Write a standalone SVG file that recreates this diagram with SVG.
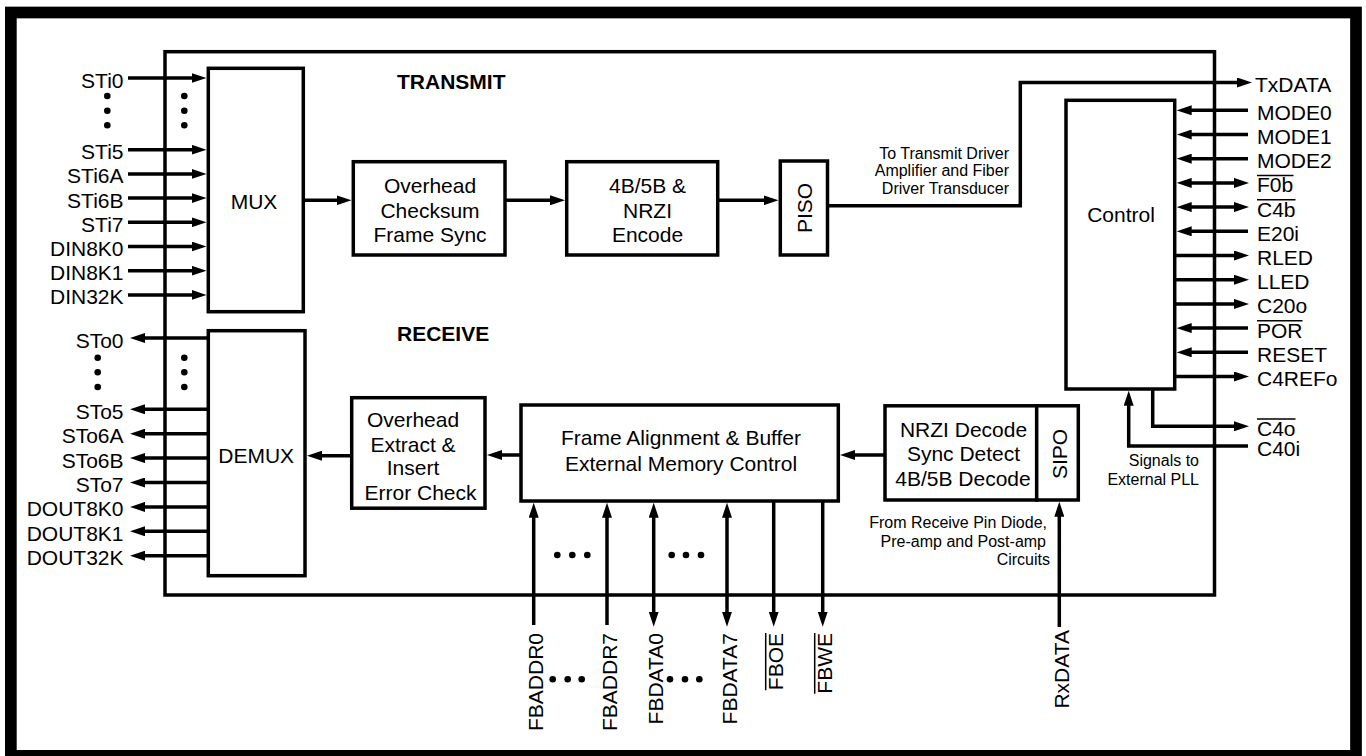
<svg xmlns="http://www.w3.org/2000/svg" width="1366" height="756" viewBox="0 0 1366 756">
<defs>
<marker id="ah" viewBox="0 0 15 10" refX="7" refY="5" markerWidth="15" markerHeight="10" markerUnits="userSpaceOnUse" orient="auto-start-reverse"><path d="M0,0 L15,5 L0,10 z" fill="#000"/></marker>
</defs>
<style>
.t{font-family:"Liberation Sans",Arial,Helvetica,sans-serif;font-size:21px;fill:#000}
.tb{font-weight:bold}
.n{font-size:16px}
.box{fill:#fff;stroke:#000;stroke-width:3.5}
.w{fill:none;stroke:#000;stroke-width:3.5}
.a{marker-end:url(#ah)}
.b{marker-start:url(#ah)}
.ov{stroke:#000;stroke-width:1.5}
.e{text-anchor:end}
.m{text-anchor:middle}
.dot{fill:#000}
</style>
<rect x="10.85" y="12.5" width="1345.15" height="743.35" fill="#fff" stroke="#000" stroke-width="11.7"/>
<g id="chip"><rect class="w" x="165" y="51.7" width="1049.5" height="543.3"/></g>

<g id="section-labels">
<text class="t tb" x="397" y="89.3">TRANSMIT</text>
<text class="t tb" x="397" y="341">RECEIVE</text>
</g>

<g id="connectors" class="w">
<path class="a" d="M128,78H198.5"/>
<path class="a" d="M128,149.7H198.5"/>
<path class="a" d="M128,173.9H198.5"/>
<path class="a" d="M128,198.1H198.5"/>
<path class="a" d="M128,222.3H198.5"/>
<path class="a" d="M128,246.5H198.5"/>
<path class="a" d="M128,270.7H198.5"/>
<path class="a" d="M128,294.9H198.5"/>
<path class="b" d="M138,338H208"/>
<path class="b" d="M138,409.3H208"/>
<path class="b" d="M138,433.7H208"/>
<path class="b" d="M138,458.1H208"/>
<path class="b" d="M138,482.5H208"/>
<path class="b" d="M138,506.9H208"/>
<path class="b" d="M138,531.3H208"/>
<path class="b" d="M138,555.7H208"/>
<path class="a" d="M303,200.3H343.5"/>
<path class="a" d="M505,200.3H557"/>
<path class="a" d="M717.7,200.3H770.5"/>
<path class="a" d="M827.5,205.8H1020.3V82.5H1244"/>
<path class="a" d="M885,455H848"/>
<path class="a" d="M521,455H495"/>
<path class="a" d="M351.7,455.7H315"/>
<path class="a" d="M1248,110.3H1184.7"/>
<path class="a" d="M1248,134.5H1184.7"/>
<path class="a" d="M1248,158.7H1184.7"/>
<path class="a b" d="M1184.7,182.9H1241"/>
<path class="a b" d="M1184.7,207.1H1241"/>
<path class="a" d="M1248,231.3H1184.7"/>
<path class="a" d="M1174.7,255.5H1241"/>
<path class="a" d="M1174.7,279.7H1241"/>
<path class="a" d="M1174.7,303.9H1241"/>
<path class="a" d="M1248,328.1H1184.7"/>
<path class="a" d="M1248,352.3H1184.7"/>
<path class="a" d="M1174.7,376.5H1241"/>
<path class="a" d="M1152.7,389V426.3H1241"/>
<path class="a" d="M1248,446H1128.7V398.7"/>
<path class="a" d="M533.7,625V510.7"/>
<path class="a" d="M607,625V510.7"/>
<path class="a b" d="M653.7,618.7V510.7"/>
<path class="a b" d="M727,618.7V510.7"/>
<path class="a" d="M773.7,501V618.7"/>
<path class="a" d="M822.7,501V618.7"/>
<path class="a" d="M1059.3,627V509.7"/>
</g>

<g id="mux"><rect class="box" x="208.3" y="68.3" width="95" height="243.4"/><text class="t m" x="254" y="209">MUX</text></g>
<g id="demux"><rect class="box" x="208.3" y="330.7" width="96.7" height="245"/><text class="t m" x="256.2" y="463">DEMUX</text></g>
<g id="overhead-tx"><rect class="box" x="353.3" y="161.7" width="151.7" height="93.3"/>
<text class="t m" x="430" y="193.3">Overhead</text><text class="t m" x="430" y="217.5">Checksum</text><text class="t m" x="430" y="241.7">Frame Sync</text></g>
<g id="encode"><rect class="box" x="566.7" y="161.7" width="151" height="93.3"/>
<text class="t m" x="647.5" y="193.3">4B/5B &amp;</text><text class="t m" x="647.5" y="217.5">NRZI</text><text class="t m" x="647.5" y="241.7">Encode</text></g>
<g id="piso"><rect class="box" x="780.3" y="161" width="47.2" height="94"/>
<text class="t m" transform="translate(804,208) rotate(-90)" y="7.5">PISO</text></g>
<g id="control"><rect class="box" x="1066" y="100.3" width="108.7" height="288.7"/><text class="t m" x="1121" y="221.5">Control</text></g>
<g id="overhead-rx"><rect class="box" x="351.7" y="397.7" width="133.3" height="110.5"/>
<text class="t m" x="413" y="426.7">Overhead</text><text class="t m" x="413" y="451.7">Extract &amp;</text><text class="t m" x="413" y="474.5">Insert</text><text class="t m" x="420.5" y="500">Error Check</text></g>
<g id="frame-align"><rect class="box" x="521" y="405" width="317.3" height="96"/>
<text class="t m" x="681" y="445">Frame Alignment &amp; Buffer</text><text class="t m" x="681" y="470.7">External Memory Control</text></g>
<g id="nrzi-decode"><rect class="box" x="885" y="405.8" width="151.7" height="94.2"/>
<text class="t m" x="963.5" y="437">NRZI Decode</text><text class="t m" x="963.5" y="461">Sync Detect</text><text class="t m" x="963" y="485.5">4B/5B Decode</text></g>
<g id="sipo"><rect class="box" x="1036.7" y="405.8" width="41.6" height="94.2"/>
<text class="t m" transform="translate(1059.2,454) rotate(-90)" y="7.5">SIPO</text></g>

<g id="notes">
<text class="t n e" x="1009" y="158.5">To Transmit Driver</text>
<text class="t n e" x="1009" y="176">Amplifier and Fiber</text>
<text class="t n e" x="1009" y="193.5">Driver Transducer</text>
<text class="t n e" x="1199" y="466">Signals to</text>
<text class="t n e" x="1199" y="485">External PLL</text>
<text class="t n e" x="1047" y="528">From Receive Pin Diode,</text>
<text class="t n e" x="1046" y="546.5">Pre-amp and Post-amp</text>
<text class="t n e" x="1050" y="565">Circuits</text>
</g>

<g id="pins-left-in">
<text class="t e" x="123.5" y="87.5">STi0</text>
<text class="t e" x="123.5" y="159.2">STi5</text>
<text class="t e" x="123.5" y="183.4">STi6A</text>
<text class="t e" x="123.5" y="207.6">STi6B</text>
<text class="t e" x="123.5" y="231.8">STi7</text>
<text class="t e" x="123.5" y="256">DIN8K0</text>
<text class="t e" x="123.5" y="280.2">DIN8K1</text>
<text class="t e" x="123.5" y="304.4">DIN32K</text>
</g>
<g id="pins-left-out">
<text class="t e" x="123.5" y="347.5">STo0</text>
<text class="t e" x="123.5" y="418.8">STo5</text>
<text class="t e" x="123.5" y="443.2">STo6A</text>
<text class="t e" x="123.5" y="467.6">STo6B</text>
<text class="t e" x="123.5" y="492">STo7</text>
<text class="t e" x="123.5" y="516.4">DOUT8K0</text>
<text class="t e" x="123.5" y="540.8">DOUT8K1</text>
<text class="t e" x="123.5" y="565.2">DOUT32K</text>
</g>
<g id="pins-right">
<text class="t" x="1255" y="92">TxDATA</text>
<text class="t" x="1257" y="119.8">MODE0</text>
<text class="t" x="1257" y="144">MODE1</text>
<text class="t" x="1257" y="168.2">MODE2</text>
<text class="t" x="1257" y="192.4">F0b</text>
<text class="t" x="1257" y="216.6">C4b</text>
<text class="t" x="1257" y="240.8">E20i</text>
<text class="t" x="1257" y="265">RLED</text>
<text class="t" x="1257" y="289.2">LLED</text>
<text class="t" x="1257" y="313.4">C20o</text>
<text class="t" x="1257" y="337.6">POR</text>
<text class="t" x="1257" y="361.8">RESET</text>
<text class="t" x="1257" y="386">C4REFo</text>
<text class="t" x="1257" y="435.8">C4o</text>
<text class="t" x="1257" y="455.5">C40i</text>
<path class="ov" d="M1257,175.5H1293.5M1257,199.7H1295.5M1257,320.7H1302.5M1257,418.9H1295.5"/>
</g>
<g id="pins-bottom">
<text class="t e" transform="translate(533.7,633) rotate(-90)" y="9.5">FBADDR0</text>
<text class="t e" transform="translate(607,633) rotate(-90)" y="9.5">FBADDR7</text>
<text class="t e" transform="translate(653.7,633) rotate(-90)" y="9.5">FBDATA0</text>
<text class="t e" transform="translate(727,633) rotate(-90)" y="9.5">FBDATA7</text>
<text class="t e" transform="translate(773.7,633) rotate(-90)" y="9.5">FBOE</text>
<text class="t e" transform="translate(822.7,633) rotate(-90)" y="9.5">FBWE</text>
<text class="t e" transform="translate(1059.3,630) rotate(-90)" y="9.5">RxDATA</text>
<path class="ov" d="M765.7,633V690.2M814.7,633V693.7"/>
</g>
<g id="ellipses" class="dot">
<circle cx="107.3" cy="96" r="3.3"/><circle cx="107.3" cy="110.7" r="3.3"/><circle cx="107.3" cy="125.3" r="3.3"/>
<circle cx="184.3" cy="96" r="3.3"/><circle cx="184.3" cy="110.7" r="3.3"/><circle cx="184.3" cy="125.3" r="3.3"/>
<circle cx="97.7" cy="357.7" r="3.3"/><circle cx="97.7" cy="372.3" r="3.3"/><circle cx="97.7" cy="387" r="3.3"/>
<circle cx="184.3" cy="357.7" r="3.3"/><circle cx="184.3" cy="372.3" r="3.3"/><circle cx="184.3" cy="387" r="3.3"/>
<circle cx="557.3" cy="555" r="3.3"/><circle cx="572.3" cy="555" r="3.3"/><circle cx="587.3" cy="555" r="3.3"/>
<circle cx="671.7" cy="555" r="3.3"/><circle cx="686" cy="555" r="3.3"/><circle cx="701" cy="555" r="3.3"/>
<circle cx="552.7" cy="679.3" r="3.3"/><circle cx="567.7" cy="679.3" r="3.3"/><circle cx="581.7" cy="679.3" r="3.3"/>
<circle cx="670" cy="679.3" r="3.3"/><circle cx="685" cy="679.3" r="3.3"/><circle cx="699.3" cy="679.3" r="3.3"/>
</g>
</svg>
